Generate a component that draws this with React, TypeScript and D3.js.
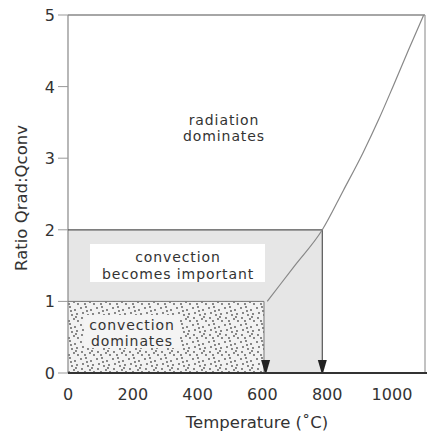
import React from "react";
import * as d3 from "d3";

// Temperature ticks (°C) and ratio ticks
const xTicks = [0, 200, 400, 600, 800, 1000];
const yTicks = [0, 1, 2, 3, 4, 5];

// Regime boundaries
const convectionLimitT = 605; // convection dominates below this temperature
const transitionLimitT = 785; // convection important up to this temperature
const convectionRatio = 1;
const transitionRatio = 2;

// Boundary curve: ratio Qrad:Qconv vs temperature
const curveT = [615, 700, 785, 850, 910, 960, 1005, 1050, 1098];
const curveRatio = [1, 1.5, 2, 2.55, 3.07, 3.55, 4.02, 4.5, 5];

const W = 427;
const H = 435;
const FONT = "'DejaVu Sans', sans-serif";

export default function App() {
  const x = d3.scaleLinear().domain([0, 1102]).range([68, 425]);
  const y = d3.scaleLinear().domain([0, 5]).range([373, 15]);

  const pts: [number, number][] = curveT.map((t, i) => [t, curveRatio[i]]);
  const line = d3
    .line<[number, number]>()
    .x((d) => x(d[0]))
    .y((d) => y(d[1]))
    .curve(d3.curveMonotoneX);

  const arrow = (t: number) => {
    const cx = x(t);
    const tip = y(0) - 1;
    return `M${cx - 4.5},${tip - 12} L${cx + 4.5},${tip - 12} L${cx + 1},${tip} L${cx - 1},${tip} Z`;
  };

  // Deterministic stipple pattern for the convection-dominated area
  const dots: [number, number][] = [
    [1, 2], [6, 1], [11, 4], [3, 7], [8, 9], [13, 8], [2, 12], [10, 13], [5, 15], [14, 15], [7, 5], [12, 11],
  ];

  const label = { fontFamily: FONT, fontSize: 14, letterSpacing: 0.9, fill: "#333" } as const;

  return (
    <svg width={W} height={H} style={{ position: "absolute", left: 0, top: 0, background: "#fff" }}>
      <defs>
        <pattern id="stipple" width={16} height={17} patternUnits="userSpaceOnUse">
          <rect width={16} height={17} fill="#f2f2f2" />
          {dots.map((d, i) => (
            <circle key={i} cx={d[0]} cy={d[1]} r={0.9} fill="#555" />
          ))}
        </pattern>
      </defs>

      {/* transition region */}
      <rect
        x={x(0)}
        y={y(transitionRatio)}
        width={x(transitionLimitT) - x(0)}
        height={y(0) - y(transitionRatio)}
        fill="#e6e6e6"
      />
      {/* convection-dominated region */}
      <rect
        x={x(0)}
        y={y(convectionRatio)}
        width={x(convectionLimitT) - x(0)}
        height={y(0) - y(convectionRatio)}
        fill="url(#stipple)"
      />

      {/* text backgrounds */}
      <rect x={90} y={244} width={175} height={38} fill="#fff" />
      <rect x={84} y={315} width={96} height={33} fill="#f4f4f4" />

      {/* frame */}
      <line x1={x(0)} y1={y(5)} x2={425} y2={y(5)} stroke="#888" strokeWidth={1.5} />
      <line x1={425} y1={y(5)} x2={425} y2={y(0)} stroke="#999" strokeWidth={1.2} />
      <line x1={x(0)} y1={y(5)} x2={x(0)} y2={y(0)} stroke="#888" strokeWidth={1.2} />

      {/* region borders */}
      <line x1={x(0)} y1={y(transitionRatio)} x2={x(transitionLimitT)} y2={y(transitionRatio)} stroke="#555" strokeWidth={1.3} />
      <line x1={x(0)} y1={y(convectionRatio)} x2={x(convectionLimitT)} y2={y(convectionRatio)} stroke="#777" strokeWidth={1} />
      <line x1={x(transitionLimitT)} y1={y(transitionRatio)} x2={x(transitionLimitT)} y2={y(0)} stroke="#555" strokeWidth={1.2} />
      <line x1={x(convectionLimitT)} y1={y(convectionRatio)} x2={x(convectionLimitT)} y2={y(0)} stroke="#777" strokeWidth={1} />

      {/* boundary curve */}
      <path d={line(pts) ?? ""} fill="none" stroke="#888" strokeWidth={1.2} />

      {/* arrows */}
      <path d={arrow(convectionLimitT + 5)} fill="#222" />
      <path d={arrow(transitionLimitT)} fill="#222" />

      {/* x axis */}
      <line x1={x(0)} y1={y(0)} x2={427} y2={y(0)} stroke="#333" strokeWidth={2} />

      {/* y ticks */}
      {yTicks.map((v) => (
        <g key={v}>
          <line x1={x(0) - 10} y1={y(v)} x2={x(0)} y2={y(v)} stroke="#999" strokeWidth={1} />
          <text x={55} y={y(v) + 6} textAnchor="end" fontFamily={FONT} fontSize={16} fill="#333">
            {v}
          </text>
        </g>
      ))}

      {/* x tick labels */}
      {xTicks.map((v) => (
        <text key={v} x={x(v)} y={400} textAnchor="middle" fontFamily={FONT} fontSize={16} fill="#333">
          {v}
        </text>
      ))}

      {/* axis titles */}
      <text x={257} y={428} textAnchor="middle" fontFamily={FONT} fontSize={16.5} fill="#333">
        Temperature (˚C)
      </text>
      <text
        transform={`translate(27,198) rotate(-90)`}
        textAnchor="middle"
        fontFamily={FONT}
        fontSize={16.5}
        fill="#333"
      >
        Ratio Qrad:Qconv
      </text>

      {/* region labels */}
      <g {...label} textAnchor="middle">
        <text x={224} y={125}>radiation</text>
        <text x={224} y={141}>dominates</text>
        <text x={178} y={262}>convection</text>
        <text x={178} y={278.5}>becomes important</text>
        <text x={132} y={330}>convection</text>
        <text x={132} y={346}>dominates</text>
      </g>
    </svg>
  );
}
